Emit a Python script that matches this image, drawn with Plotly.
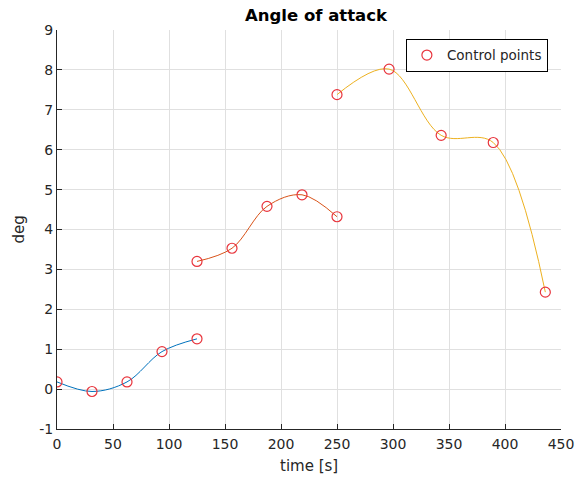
import plotly.graph_objects as go

# Segment control points
seg1_t = [0, 31.25, 62.5, 93.75, 125]
seg1_y = [0.18, -0.06, 0.18, 0.94, 1.26]
seg2_t = [125, 156.25, 187.5, 218.75, 250]
seg2_y = [3.2, 3.53, 4.58, 4.87, 4.32]
seg3_t = [250, 296.5, 343, 389.5, 436]
seg3_y = [7.38, 8.02, 6.36, 6.18, 2.43]

x_ticks = [0, 50, 100, 150, 200, 250, 300, 350, 400, 450]
y_ticks = [-1, 0, 1, 2, 3, 4, 5, 6, 7, 8, 9]
y_ticktext = ["-1", "0", "1", "2", "3", "4", "5", "6", "7", "8", "9"]

colors = ["#0072BD", "#D95319", "#EDB120"]
font = "DejaVu Sans"
ink = "#262626"

W, H = 576, 479
ML, MR, MT, MB = 57, 15, 30, 50
PW, PH = W - ML - MR, H - MT - MB

fig = go.Figure()
for t, y, c in [(seg1_t, seg1_y, colors[0]), (seg2_t, seg2_y, colors[1]), (seg3_t, seg3_y, colors[2])]:
    fig.add_trace(go.Scatter(x=t, y=y, mode="lines", line=dict(color=c, width=1, shape="spline", smoothing=1.0),
                             showlegend=False, hoverinfo="skip"))

fig.add_trace(go.Scatter(x=seg1_t + seg2_t + seg3_t, y=seg1_y + seg2_y + seg3_y, mode="markers",
                         name="Control points",
                         marker=dict(symbol="circle-open", size=10, color="#e8343c", line=dict(width=1.2))))

fig.update_layout(
    width=W, height=H,
    margin=dict(l=ML, r=MR, t=MT, b=MB, autoexpand=False),
    paper_bgcolor="white", plot_bgcolor="white",
    title=dict(text="<b>Angle of attack</b>", x=316 / W, xanchor="center", y=1 - 15 / H, yanchor="middle",
               font=dict(family=font, size=16.5, color="black")),
    font=dict(family=font, size=14, color=ink),
    xaxis=dict(range=[0, 450], tickvals=x_ticks, automargin=False,
               showgrid=True, gridcolor="#e0e0e0", gridwidth=1, zeroline=False,
               showline=True, linecolor=ink, linewidth=1, ticks="inside", ticklen=5, tickcolor=ink,
               tickfont=dict(family=font, size=14, color=ink), ticklabelstandoff=2),
    yaxis=dict(range=[-1, 9], tickvals=y_ticks, ticktext=y_ticktext, automargin=False,
               showgrid=True, gridcolor="#e0e0e0", gridwidth=1, zeroline=False,
               showline=True, linecolor=ink, linewidth=1, ticks="inside", ticklen=5, tickcolor=ink,
               tickfont=dict(family=font, size=14, color=ink)),
    legend=dict(x=0.974, xanchor="right", y=0.978, yanchor="top", bgcolor="white",
                bordercolor="black", borderwidth=1, font=dict(family=font, size=13.5, color=ink),
                tracegroupgap=0),
    annotations=[
        dict(text="time [s]", xref="paper", yref="paper", x=0.5, y=-(466 - (H - MB)) / PH,
             xanchor="center", yanchor="middle", showarrow=False,
             font=dict(family=font, size=15, color=ink)),
        dict(text="deg", xref="paper", yref="paper", x=-(ML - 18) / PW, y=0.5, textangle=-90,
             xanchor="center", yanchor="middle", showarrow=False,
             font=dict(family=font, size=15, color=ink)),
    ],
)

fig.write_html("out.html")
